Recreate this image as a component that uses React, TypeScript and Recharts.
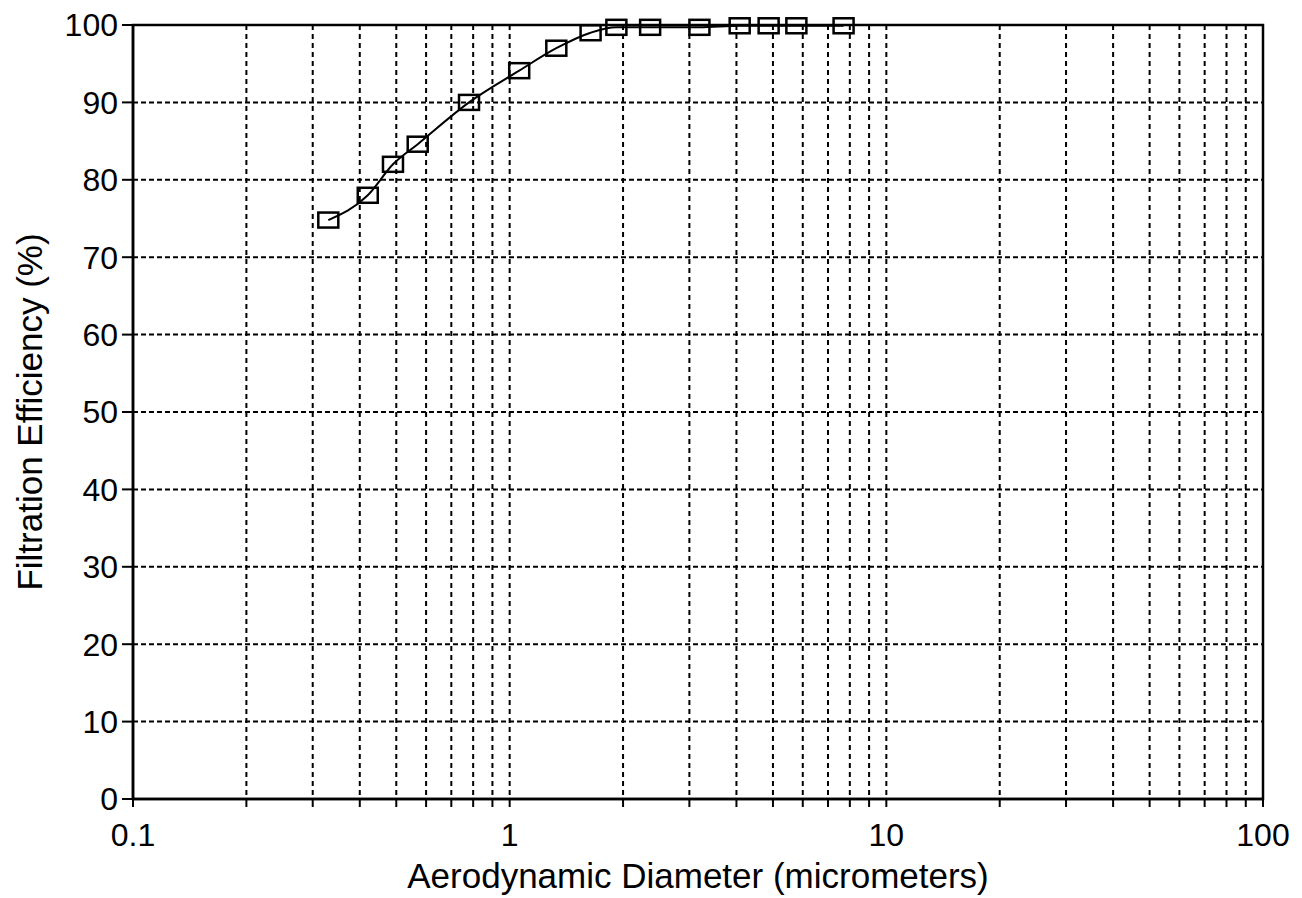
import { LineChart, Line, XAxis, YAxis, CartesianGrid, ReferenceArea } from 'recharts'

// aerodynamic diameter (micrometers) and measured filtration efficiency (%)
const diameters = [0.33, 0.42, 0.49, 0.57, 0.78, 1.06, 1.33, 1.64, 1.92, 2.36, 3.19, 4.08, 4.87, 5.77, 7.7]
const efficiencies = [74.8, 78, 82, 84.6, 90, 94.1, 97, 99, 99.7, 99.7, 99.7, 99.9, 99.9, 99.9, 99.9]

const xTicks = [
  0.1, 0.2, 0.3, 0.4, 0.5, 0.6, 0.7, 0.8, 0.9,
  1, 2, 3, 4, 5, 6, 7, 8, 9,
  10, 20, 30, 40, 50, 60, 70, 80, 90,
  100,
]
const xLabels = [0.1, 1, 10, 100]
const yTicks = [0, 10, 20, 30, 40, 50, 60, 70, 80, 90, 100]

const data = diameters.map((d, i) => ({ d, eff: efficiencies[i] }))

const font = '"Liberation Sans", Arial, Helvetica, sans-serif'

const SquareDot = (props: any) => {
  const { cx, cy, index } = props
  if (cx == null || cy == null) return <g key={`dot-${index}`} />
  return (
    <rect
      key={`dot-${index}`}
      x={cx - 10}
      y={cy - 7.5}
      width={20}
      height={15}
      fill="none"
      stroke="#000"
      strokeWidth={2.5}
    />
  )
}

export default function App() {
  return (
    <div style={{ position: 'absolute', left: 0, top: 0, width: 1302, height: 898, background: '#fff', fontFamily: font }}>
      <LineChart width={1302} height={898} data={data} margin={{ top: 25, right: 39, left: 0, bottom: 39 }}>
        <CartesianGrid horizontal={false} stroke="#000" strokeWidth={2} strokeDasharray="5 4" />
        <CartesianGrid vertical={false} stroke="#000" strokeWidth={2} strokeDasharray="5 3" />
        <XAxis
          dataKey="d"
          type="number"
          scale="log"
          domain={[0.1, 100]}
          allowDataOverflow
          ticks={xTicks}
          interval={0}
          tickFormatter={(v: number) => (xLabels.includes(v) ? String(v) : '')}
          height={60}
          tickSize={8}
          tickMargin={16}
          axisLine={{ stroke: '#000', strokeWidth: 2.5 }}
          tickLine={{ stroke: '#000', strokeWidth: 2 }}
          tick={{ fill: '#000', fontSize: 32, fontFamily: font }}
          label={{
            value: 'Aerodynamic Diameter (micrometers)',
            position: 'bottom',
            offset: 4,
            style: { fill: '#000', fontSize: 35, fontFamily: font },
          }}
        />
        <YAxis
          type="number"
          domain={[0, 100]}
          ticks={yTicks}
          interval={0}
          width={133}
          tickSize={11}
          tickMargin={4}
          axisLine={{ stroke: '#000', strokeWidth: 2.5 }}
          tickLine={{ stroke: '#000', strokeWidth: 2 }}
          tick={{ fill: '#000', fontSize: 32, fontFamily: font }}
          label={{
            value: 'Filtration Efficiency (%)',
            angle: -90,
            position: 'insideLeft',
            offset: 30,
            style: { fill: '#000', fontSize: 35, fontFamily: font, textAnchor: 'middle' },
          }}
        />
        <ReferenceArea x1={0.1} x2={100} y1={0} y2={100} fill="none" stroke="#000" strokeWidth={2.5} />
        <Line
          type="monotone"
          dataKey="eff"
          stroke="#000"
          strokeWidth={2}
          dot={SquareDot}
          activeDot={false}
          isAnimationActive={false}
        />
      </LineChart>
    </div>
  )
}
